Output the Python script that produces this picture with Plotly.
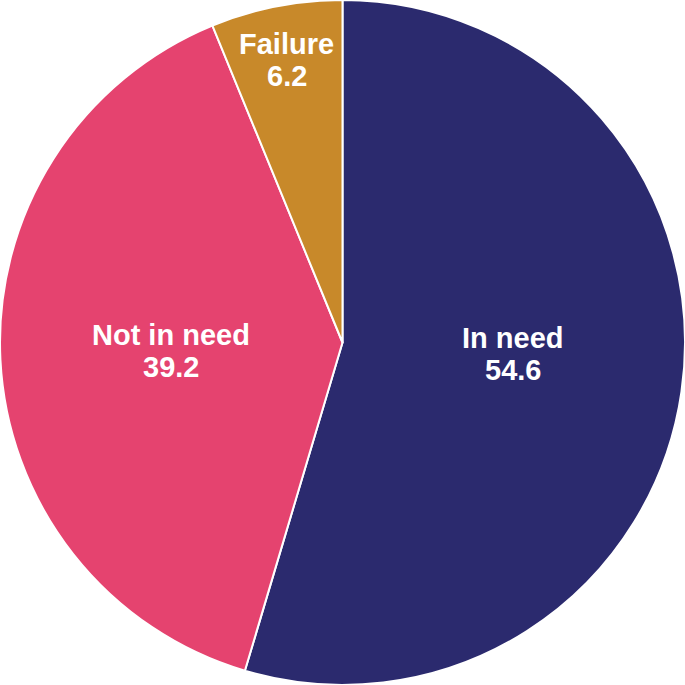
import math
import plotly.graph_objects as go

categories = ["In need", "Not in need", "Failure"]
values = [54.6, 39.2, 6.2]
colors = ["#2b2a6e", "#e5436f", "#c8892a"]
label_radius = [0.50, 0.50, 0.84]      # fraction of pie radius for label placement
label_angle_frac = [0.478, 0.5, 0.5]   # position of label within slice's angular span

W = H = 685

fig = go.Figure(go.Pie(
    labels=categories,
    values=values,
    sort=False,
    direction="clockwise",
    rotation=0,
    marker=dict(colors=colors, line=dict(color="white", width=2)),
    textinfo="none",
    hoverinfo="label+value",
    showlegend=False,
    domain=dict(x=[0, 1], y=[0, 1]),
))

total = sum(values)
cum = 0.0
annotations = []
font = dict(family="Liberation Sans, Arial, sans-serif", size=29, color="white")
for cat, v, rf, af in zip(categories, values, label_radius, label_angle_frac):
    mid = (cum + v * af) / total * 2 * math.pi
    cum += v
    r = 0.5 * rf
    x = 0.5 + r * math.sin(mid)
    y = 0.5 + r * math.cos(mid)
    for txt, shift in ((f"<b>{cat}</b>", 16), (f"<b>{v}</b>", -16)):
        annotations.append(dict(
            x=x, y=y, xref="paper", yref="paper",
            xanchor="center", yanchor="middle", yshift=shift,
            text=txt, showarrow=False, font=font, align="center",
        ))

fig.update_layout(
    width=W, height=H,
    margin=dict(l=0, r=0, t=0, b=0),
    paper_bgcolor="white",
    plot_bgcolor="white",
    annotations=annotations,
)

fig.write_html(
    "out.html",
    config={"displayModeBar": False},
    post_script="document.body.style.margin='0';document.body.style.padding='0';",
)
